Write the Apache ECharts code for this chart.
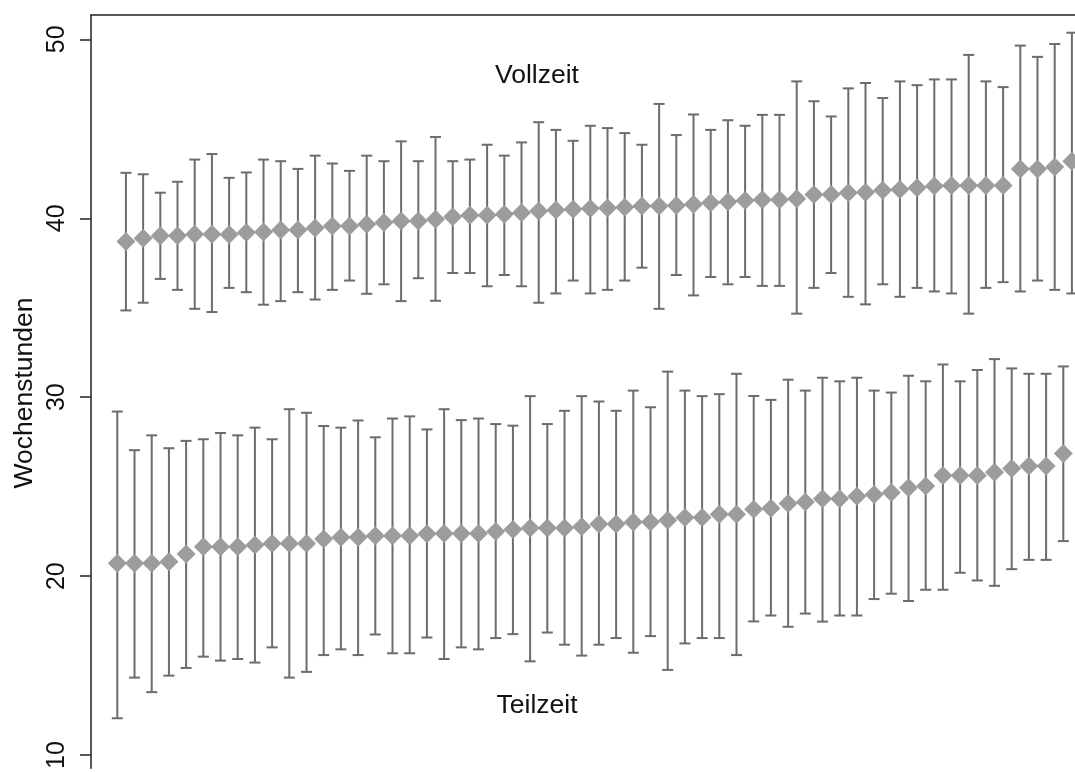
<!DOCTYPE html>
<html>
<head>
<meta charset="utf-8">
<script src="https://cdn.jsdelivr.net/npm/echarts@6/dist/echarts.min.js"></script>
<style>
html,body{margin:0;padding:0;background:#fff;}
#chart{width:1075px;height:772px;}
</style>
</head>
<body>
<div id="chart"></div>
<script>
// ---- data ----
const yTicks = [10, 20, 30, 40, 50];
const groupLabels = ["Vollzeit", "Teilzeit"];
const yAxisTitle = "Wochenstunden";

const vollMean = [38.7, 38.89, 39.02, 39.02, 39.11, 39.11, 39.1, 39.2, 39.24, 39.35, 39.35, 39.46, 39.57, 39.57, 39.67, 39.76, 39.85, 39.85, 39.94, 40.09, 40.17, 40.17, 40.22, 40.31, 40.41, 40.46, 40.5, 40.54, 40.57, 40.61, 40.69, 40.69, 40.72, 40.78, 40.87, 40.93, 41.0, 41.04, 41.04, 41.09, 41.33, 41.33, 41.43, 41.46, 41.57, 41.61, 41.7, 41.8, 41.83, 41.83, 41.83, 41.83, 42.76, 42.76, 42.87, 43.19];
const vollUpper = [42.54, 42.46, 41.43, 42.04, 43.28, 43.59, 42.26, 42.56, 43.28, 43.19, 42.76, 43.5, 43.06, 42.65, 43.5, 43.19, 44.3, 43.19, 44.54, 43.19, 43.28, 44.11, 43.5, 44.24, 45.37, 44.94, 44.33, 45.17, 45.04, 44.76, 44.11, 46.39, 44.65, 45.8, 44.94, 45.48, 45.17, 45.78, 45.78, 47.65, 46.54, 45.69, 47.26, 47.56, 46.72, 47.65, 47.44, 47.76, 47.76, 49.13, 47.65, 47.33, 49.65, 49.02, 49.74, 50.37];
const vollLower = [34.85, 35.28, 36.61, 36.0, 34.94, 34.76, 36.11, 35.87, 35.17, 35.37, 35.87, 35.46, 36.0, 36.52, 35.78, 36.31, 35.37, 36.65, 35.39, 36.94, 36.94, 36.2, 36.83, 36.2, 35.28, 35.8, 36.52, 35.8, 36.0, 36.52, 37.24, 34.94, 36.83, 35.69, 36.72, 36.31, 36.72, 36.22, 36.22, 34.67, 36.11, 36.94, 35.61, 35.19, 36.31, 35.61, 36.11, 35.91, 35.8, 34.67, 36.11, 36.43, 35.91, 36.52, 36.0, 35.8];

const teilMean = [20.72, 20.72, 20.72, 20.81, 21.24, 21.65, 21.65, 21.65, 21.74, 21.83, 21.83, 21.83, 22.07, 22.17, 22.17, 22.26, 22.26, 22.26, 22.37, 22.39, 22.39, 22.39, 22.5, 22.61, 22.69, 22.69, 22.69, 22.76, 22.91, 22.91, 23.02, 23.02, 23.13, 23.28, 23.28, 23.46, 23.46, 23.74, 23.8, 24.06, 24.15, 24.33, 24.33, 24.46, 24.57, 24.67, 24.94, 25.04, 25.63, 25.63, 25.63, 25.8, 26.02, 26.15, 26.15, 26.85];
const teilUpper = [29.2, 27.04, 27.87, 27.15, 27.56, 27.65, 28.0, 27.87, 28.3, 27.65, 29.33, 29.13, 28.39, 28.3, 28.7, 27.76, 28.81, 28.93, 28.2, 29.33, 28.72, 28.81, 28.5, 28.41, 30.06, 28.5, 29.24, 30.06, 29.76, 29.24, 30.37, 29.44, 31.43, 30.37, 30.06, 30.17, 31.31, 30.07, 29.85, 30.98, 30.37, 31.09, 30.89, 31.09, 30.37, 30.26, 31.2, 30.89, 31.83, 30.89, 31.52, 32.13, 31.61, 31.31, 31.31, 31.72];
const teilLower = [12.06, 14.33, 13.52, 14.44, 14.87, 15.5, 15.28, 15.37, 15.17, 16.02, 14.33, 14.65, 15.59, 15.91, 15.59, 16.74, 15.69, 15.69, 16.57, 15.37, 16.02, 15.91, 16.54, 16.76, 15.24, 16.85, 16.17, 15.56, 16.17, 16.54, 15.72, 16.65, 14.76, 16.24, 16.54, 16.54, 15.59, 17.47, 17.8, 17.17, 17.91, 17.46, 17.8, 17.8, 18.72, 19.02, 18.61, 19.24, 19.24, 20.19, 19.76, 19.46, 20.39, 20.91, 20.91, 21.96];

// ---- build ----
const FONT = "'Liberation Sans', Arial, sans-serif";
const vollOffset = 0.5; // Vollzeit marks sit half a step to the right
const vollPts = vollMean.map((m, i) => [i + vollOffset, m]);
const teilPts = teilMean.map((m, i) => [i, m]);
const vollBars = vollMean.map((m, i) => [i + vollOffset, vollLower[i], vollUpper[i]]);
const teilBars = teilMean.map((m, i) => [i, teilLower[i], teilUpper[i]]);

function renderBar(params, api) {
  const x = api.value(0), lo = api.value(1), hi = api.value(2);
  const pHi = api.coord([x, hi]);
  const pLo = api.coord([x, lo]);
  const w = 5.5;
  const st = { stroke: '#6c6c6c', lineWidth: 2 };
  return {
    type: 'group',
    children: [
      { type: 'line', shape: { x1: pHi[0], y1: pHi[1], x2: pLo[0], y2: pLo[1] }, style: st },
      { type: 'line', shape: { x1: pHi[0] - w, y1: pHi[1], x2: pHi[0] + w, y2: pHi[1] }, style: st },
      { type: 'line', shape: { x1: pLo[0] - w, y1: pLo[1], x2: pLo[0] + w, y2: pLo[1] }, style: st }
    ]
  };
}

const chart = echarts.init(document.getElementById('chart'), null, { renderer: 'canvas' });
chart.setOption({
  backgroundColor: '#ffffff',
  animation: false,
  grid: { left: 91, right: 0, top: 15, bottom: 0, containLabel: false },
  xAxis: {
    type: 'value', position: 'top', min: -1.53, max: 55.68,
    axisLine: { show: true, onZero: false, lineStyle: { color: '#222', width: 1.5 } },
    axisTick: { show: false }, axisLabel: { show: false }, splitLine: { show: false }
  },
  yAxis: {
    type: 'value', min: 9.26, max: 51.36,
    axisLine: { show: true, onZero: false, lineStyle: { color: '#222', width: 1.5 } },
    axisTick: { show: true, customValues: yTicks, length: 11, lineStyle: { color: '#222', width: 1.5 } },
    axisLabel: { show: true, customValues: yTicks, rotate: 90, margin: 21, fontSize: 25, color: '#111', fontFamily: FONT },
    splitLine: { show: false }
  },
  graphic: [
    { type: 'text', x: 25, y: 393, rotation: Math.PI / 2,
      style: { text: yAxisTitle, font: '26.5px ' + FONT, fill: '#111', textAlign: 'center', textVerticalAlign: 'middle' } },
    { type: 'text', x: 537, y: 76,
      style: { text: groupLabels[0], font: '26.5px ' + FONT, fill: '#111', textAlign: 'center', textVerticalAlign: 'middle' } },
    { type: 'text', x: 537, y: 706,
      style: { text: groupLabels[1], font: '26.5px ' + FONT, fill: '#111', textAlign: 'center', textVerticalAlign: 'middle' } }
  ],
  series: [
    { type: 'custom', name: 'Vollzeit-Bereich', renderItem: renderBar, data: vollBars, encode: { x: 0, y: [1, 2] }, z: 2 },
    { type: 'custom', name: 'Teilzeit-Bereich', renderItem: renderBar, data: teilBars, encode: { x: 0, y: [1, 2] }, z: 2 },
    { type: 'scatter', name: groupLabels[0], data: vollPts, symbol: 'diamond', symbolSize: [19, 19],
      itemStyle: { color: '#9c9c9c', opacity: 1 }, z: 3 },
    { type: 'scatter', name: groupLabels[1], data: teilPts, symbol: 'diamond', symbolSize: [19, 19],
      itemStyle: { color: '#9c9c9c', opacity: 1 }, z: 3 }
  ]
});
</script>
</body>
</html>
